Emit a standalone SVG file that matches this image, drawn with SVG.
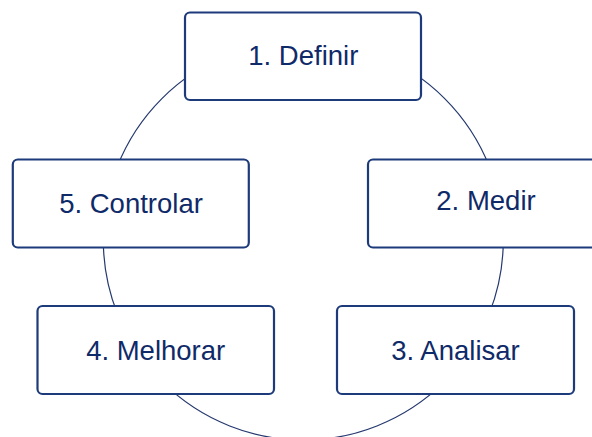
<svg xmlns="http://www.w3.org/2000/svg" width="592" height="437" viewBox="0 0 592 437">
<style>
.box{fill:#ffffff;stroke:#1d3b7a;stroke-width:2.2}
.lbl{font-family:"Liberation Sans",Arial,sans-serif;font-size:27.5px;fill:#0f2a68;text-anchor:middle}
.ring{fill:none;stroke:#25396f;stroke-width:1.2}
</style>
<rect width="592" height="437" fill="#ffffff"/>
<g id="connectors">
<circle class="ring" cx="303.3" cy="240" r="200"/>
</g>
<g id="n1"><rect class="box" x="185" y="12.5" width="236" height="87.5" rx="5"/><text class="lbl" x="303.3" y="65">1. Definir</text></g>
<g id="n2"><rect class="box" x="368" y="159.5" width="236" height="88" rx="5"/><text class="lbl" x="486" y="210">2. Medir</text></g>
<g id="n3"><rect class="box" x="337" y="306" width="237" height="88" rx="5"/><text class="lbl" x="455.5" y="360">3. Analisar</text></g>
<g id="n4"><rect class="box" x="37.5" y="306" width="236.5" height="88" rx="5"/><text class="lbl" x="155.7" y="360">4. Melhorar</text></g>
<g id="n5"><rect class="box" x="12.8" y="159.5" width="236" height="88" rx="5"/><text class="lbl" x="131" y="213">5. Controlar</text></g>
</svg>
